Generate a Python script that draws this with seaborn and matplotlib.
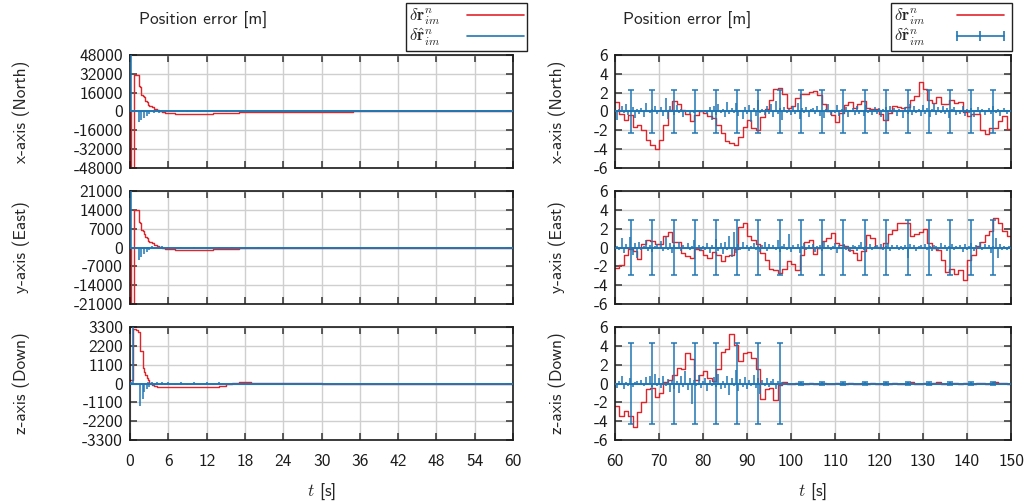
import numpy as np
import matplotlib
matplotlib.use("Agg")
import matplotlib.pyplot as plt
from matplotlib.lines import Line2D
from matplotlib.ticker import FixedLocator
import seaborn as sns

# ---------------- data ----------------
# left column: time samples (s)
left_t = [0, 0.2, 0.4, 0.6, 0.8, 1.0, 1.2, 1.4, 1.6, 1.8, 2.0, 2.2, 2.4, 2.6, 2.8, 3.0,
          3.4, 3.8, 4.2, 4.6, 5.0, 5.5, 6, 7, 8, 9, 10, 11, 12, 13, 14, 15, 16, 17, 18,
          19, 20, 22, 24, 27, 30, 35, 40, 45, 50, 55, 60]

red_north_left = [0, -50000, -50000, 31000, 31000, 31000, 31000, 22000, 21000, 14000, 13500,
                  12500, 9000, 8000, 5600, 4500, 3700, 2500, 1500, 600, -300, -900, -1400,
                  -1800, -2000, -2000, -2100, -2000, -1800, -1600, -1300, -1100, -900, -800,
                  -600, -500, -400, -300, -200, -100, -50, 0, 0, 0, 0, 0, 0]
blue_north_left = [0, 50000, 0, 0, 0, 0, 0, -9000, 0, -7000, 0, -5500, 0, -3500, 500, -2500,
                   800, -1500, 600, -1000, 700, -800, 600, -700, 800, -600, 700, -800, 600,
                   -700, 800, -600, 700, -500, 400, -300, 300, -200, 100, -100, 50, 0, 0, 0,
                   0, 0, 0]

red_east_left = [0, -22000, -22000, 13800, 13800, 13800, 13800, 9500, 9000, 6500, 6000, 5200,
                 4000, 3500, 2500, 2000, 1500, 1000, 600, 200, -200, -500, -700, -900, -1000,
                 -1000, -1000, -900, -800, -700, -600, -500, -400, -350, -300, -250, -200,
                 -150, -100, -50, 0, 0, 0, 0, 0, 0, 0]
blue_east_left = [0, 22000, 0, 0, 0, 0, 0, -4500, 0, -3500, 0, -2500, 0, -1500, 300, -1000,
                  400, -700, 300, -500, 400, -400, 300, -350, 350, -300, 350, -350, 300, -300,
                  350, -300, 300, -250, 200, -150, 150, -100, 50, -50, 0, 0, 0, 0, 0, 0, 0]

red_down_left = [200, 200, 3200, 3200, 3200, 3100, 3000, 3000, 1900, 1900, 900, 700, 500, 300,
                 200, 50, -100, -150, -200, -200, -200, -220, -220, -230, -230, -230, -220,
                 -220, -220, -200, -150, 0, 50, 60, 60, 50, 40, 30, 20, 10, 0, 0, 0, 0, 0, 0, 0]
blue_down_left = [0, 100, 3300, 0, 0, 0, 0, 0, -1300, 0, -900, -500, 0, -300, 100, -200, 100,
                  -150, 100, -100, 100, -100, 80, -100, 100, -80, 100, -100, 80, -80, 100, -60,
                  50, -40, 30, -20, 20, 0, 0, 0, 0, 0, 0, 0, 0, 0, 0]

# right column: red sampled every 1 s, blue every 0.5 s, 60..150 s
red_t = np.arange(60, 151, 1.0)
blue_t = np.arange(60, 150.01, 0.5)

red_north_right = [1.0, -0.3, -0.9, -0.4, -1.6, -1.4, -2.0, -3.0, -3.6, -4.0,
                   -3.0, -1.4, 0.2, 1.1, 0.8, 0.2, -0.3, -1.0, -0.4, 0.0,
                   -0.2, -0.5, -0.7, -1.4, -2.3, -3.1, -3.3, -3.6, -2.7, -1.6,
                   -0.9, -1.8, -2.0, -0.6, 0.3, 1.2, 2.4, 2.5, 1.9, 0.4,
                   0.6, 1.4, 1.9, 1.9, 2.1, 2.2, 1.7, 0.8, 0.0, -0.4,
                   -1.1, -0.2, 0.7, 1.0, 0.4, 0.8, 1.1, 0.4, 0.3, 0.3,
                   -0.3, -0.9, -0.2, 0.6, 0.5, 0.35, 0.5, 1.2, 1.6, 3.1,
                   2.4, 1.2, 0.9, 1.5, 0.8, 0.8, 1.2, 0.9, 1.0, -0.1,
                   -0.5, -0.3, -0.3, -2.0, -2.4, -1.8, -1.7, -1.0, -0.5, -1.9,
                   -1.9]
red_east_right = [-2.2, -1.9, -0.8, -0.2, -0.4, -1.2, 0.4, 0.8, 0.7, 0.4,
                  0.4, 1.2, 1.6, 0.6, 0.6, -0.6, -0.9, -1.1, -0.2, -0.3,
                  -0.8, -1.1, -0.5, -0.8, -1.4, -0.9, -0.8, -0.2, 2.2, 2.6,
                  1.2, 0.8, 0.4, -0.6, -1.3, -2.3, -2.4, -2.7, -2.3, -1.4,
                  -1.8, -2.4, -0.8, 0.6, 0.75, -0.7, 0.0, 0.7, 1.0, 1.5,
                  0.5, 0.3, 0.2, -0.3, -0.6, -1.3, -0.4, 1.3, 1.0, 0.1,
                  0.0, 0.5, 1.4, 1.9, 2.6, 2.6, 2.6, 1.2, 1.4, 1.6,
                  2.0, 0.5, 0.0, -0.3, -1.3, -2.6, -2.3, -2.8, -2.4, -3.4,
                  -1.3, -0.8, 0.2, 0.6, 1.3, 1.8, 3.1, 2.6, 1.7, 1.2,
                  0.9]
red_down_right = [-2.4, -3.4, -2.9, -3.5, -4.6, -3.0, -2.0, -0.6, -0.5, -1.4,
                  -1.0, 0.2, 0.4, 0.9, 1.6, 1.5, 3.2, 2.6, 0.4, 0.9,
                  1.3, 0.6, 0.3, 1.5, 3.3, 3.7, 5.3, 4.1, 2.4, 3.2,
                  3.3, 2.7, 1.5, -1.6, -0.6, -0.45, -1.8, -0.2, 0.2, -0.1,
                  0.0, 0.05, -0.05, 0.0, 0.1, -0.05, 0.0, 0.05, -0.1, 0.0,
                  0.05, 0.0, -0.05, 0.1, 0.0, -0.05, 0.05, 0.0, 0.1, 0.0,
                  -0.05, 0.05, 0.0, 0.1, -0.05, 0.0, 0.05, 0.15, 0.0, -0.05,
                  0.1, 0.0, 0.05, 0.15, 0.0, -0.05, 0.1, 0.05, 0.0, 0.1,
                  0.0, -0.05, 0.05, 0.1, 0.0, 0.05, 0.15, 0.1, 0.05, 0.0,
                  0.0]

blue_north_right = [0.1, -0.9, 0.3, 0.6, -0.2, 0.8, -0.4, 0.0, 0.5, -0.7,
                    0.3, -0.3, 0.4, -0.6, 0.9, 0.0, -0.2, 0.3, 0.6, -0.3,
                    0.2, 0.5, -0.5, 1.4, -0.8, 0.6, 0.2, -0.4, 0.7, -0.2,
                    0.3, -0.6, 0.1, 0.2, -0.3, 0.1, -0.2, 0.0, 0.2, -0.1,
                    0.0, 0.2, -0.3, 0.5, -0.9, 0.6, -0.4, 0.8, -0.2, 0.3,
                    -0.6, 1.0, -0.3, 0.4, -0.2, 0.9, -0.5, 0.2, -0.8, 0.5,
                    -0.3, 0.7, -1.1, 0.4, -0.5, 1.2, -0.2, 0.3, -0.4, 0.6,
                    -0.3, 0.8, -0.6, 1.1, -0.3, 0.4, -0.9, 0.5, -0.2, 0.3,
                    -0.4, 0.6, -0.3, 0.9, -0.8, 0.4, -0.2, 0.5, -0.6, 0.3,
                    0.4, -0.3, 0.6, -0.5, 0.2, -0.7, 0.3, 0.8, -0.4, 0.2,
                    -0.2, 0.7, -0.5, 0.3, -0.3, 0.5, -0.6, 0.2, 0.4, -0.4,
                    0.6, -0.3, 0.2, -0.5, 0.7, -0.2, 0.3, -0.4, 0.5, -0.3,
                    0.4, -0.6, 0.3, 0.5, -0.9, 0.6, -0.2, 0.4, -0.5, 0.3,
                    0.2, -0.7, 0.5, -0.3, 0.8, -0.4, 0.6, -0.2, 0.3, -0.5,
                    0.7, -0.3, 0.4, -0.6, 0.3, 0.9, -0.4, 0.5, -0.2, 0.6,
                    -0.3, 0.4, -0.7, 0.3, 0.5, -0.4, 0.2, -0.3, 0.6, -0.5,
                    0.3, -0.2, 0.4, -0.6, 0.2, 0.5, -0.3, 0.3, -0.4, 0.2,
                    0.4, -0.3, 0.6, -0.2, 0.3, -0.5, 0.2, 0.4, -0.3, 0.2,
                    0.0]
blue_east_right = [-0.1, 0.2, -0.3, 1.0, -0.6, 0.4, -0.2, 1.1, -0.8, 0.5,
                   -1.1, 0.6, -0.3, 0.2, 0.8, -0.4, 0.3, -0.5, 0.2, 0.4,
                   -0.2, 0.7, -0.4, 1.1, -0.3, 0.5, -0.6, 0.3, -0.2, 0.6,
                   -0.4, 0.3, -0.2, 0.5, -0.3, 0.2, 0.8, -0.2, 0.3, -0.4,
                   0.2, -0.3, 0.5, -0.6, 0.3, -0.2, 0.9, -0.4, 0.5, -0.7,
                   0.6, -0.3, 1.2, -1.0, 1.6, -0.6, 0.4, -0.3, 0.6, -0.2,
                   0.3, -0.4, 0.2, 0.5, -0.3, 0.2, -0.5, 0.3, 0.6, -0.4,
                   0.4, -0.2, 0.3, -0.3, 0.8, -0.5, 0.2, 0.4, -0.3, 1.4,
                   -0.5, 0.3, -0.2, 0.4, -0.6, 0.2, 0.5, -0.3, 0.3, -0.2,
                   0.4, -0.5, 0.2, 0.3, -0.4, 0.6, -0.2, 0.3, -0.3, 0.2,
                   0.5, -0.6, 0.3, -0.2, 0.4, -0.3, 0.2, -0.5, 0.3, 0.2,
                   -0.4, 0.3, 0.6, -0.3, 0.2, -0.2, 0.4, -0.3, 0.2, 0.3,
                   -0.2, 0.4, -0.3, 0.2, 0.5, -0.4, 0.3, -0.2, 0.3, -0.3,
                   0.2, -0.3, 0.3, -1.1, 0.4, -0.2, 0.3, -0.4, 0.2, 0.3,
                   -0.2, 0.4, -0.3, 0.2, -0.4, 0.3, 0.2, -0.3, 0.5, -0.2,
                   0.3, -0.4, 0.2, 0.4, -0.3, 0.2, -0.2, 0.3, -0.5, 0.4,
                   -0.3, 0.2, 0.5, -0.4, 0.3, -0.2, 0.6, -0.3, 0.4, -0.2,
                   0.3, -0.6, 0.2, 1.0, -1.1, 0.4, -0.3, 0.2, -0.3, 0.2,
                   0.0]
blue_down_right = [0.1, -0.5, 0.3, 0.8, -0.6, 0.2, -0.3, 0.6, -0.4, 0.2,
                   0.3, -0.2, 0.4, -0.3, 0.7, -0.2, 0.8, -0.4, 1.0, -0.3,
                   0.6, -0.5, 0.8, -0.3, 0.5, -0.9, 0.4, -0.6, 0.3, -1.0,
                   0.8, -0.4, 1.3, -0.7, 0.6, -2.2, 0.4, -0.3, 0.9, -0.5,
                   0.3, 0.6, -0.8, 0.4, -0.3, 0.7, -0.4, 1.0, -0.6, 0.3,
                   -0.5, 0.8, -1.2, 0.6, -0.3, 1.4, -0.8, 0.5, -0.4, 0.7,
                   -0.6, 0.4, -0.3, 0.9, -0.5, 0.6, -1.1, 0.4, -0.3, 0.6,
                   -0.4, 0.3, 0.5, -0.6, 0.3, -0.2, 0.2, -0.1, 0.1, -0.1,
                   0.05, -0.05, 0.0, 0.05, -0.05, 0.0, 0.05, 0.0, -0.05, 0.05,
                   0.0, -0.05, 0.05, 0.0, 0.05, -0.05, 0.0, 0.05, 0.0, -0.05,
                   0.05, 0.0, -0.05, 0.05, 0.0, 0.0, -0.05, 0.05, 0.0, 0.05,
                   -0.05, 0.0, 0.05, 0.0, -0.05, 0.05, 0.0, 0.0, 0.05, -0.05,
                   0.0, 0.05, -0.05, 0.0, 0.05, 0.0, -0.05, 0.05, 0.0, 0.0,
                   0.05, -0.05, 0.0, 0.05, 0.0, -0.05, 0.05, 0.0, 0.05, -0.05,
                   0.0, 0.05, 0.0, -0.05, 0.05, 0.0, 0.0, -0.05, 0.05, 0.0,
                   -0.05, 0.05, 0.0, 0.05, -0.05, 0.0, 0.05, 0.0, -0.05, 0.05,
                   0.0, -0.05, 0.05, 0.0, 0.05, 0.0, -0.05, 0.05, 0.0, -0.05,
                   0.05, 0.0, -0.05, 0.05, 0.0, 0.05, -0.05, 0.0, 0.05, 0.0,
                   0.0]

# error bars on the estimate (right column)
err_t = [63.6, 68.4, 73.3, 78.1, 82.9, 87.8, 92.6, 97.4, 102.3, 107.1, 111.9, 116.8,
         121.6, 126.5, 131.3, 136.1, 141.0, 145.8]
err_center = [0.0] * 18
err_north = [2.3] * 18
err_east = [2.9] * 18
err_down = [4.3] * 8 + [0.15] * 10

row_labels = ["x-axis (North)", "y-axis (East)", "z-axis (Down)"]
left_yticks = [[-48000, -32000, -16000, 0, 16000, 32000, 48000],
               [-21000, -14000, -7000, 0, 7000, 14000, 21000],
               [-3300, -2200, -1100, 0, 1100, 2200, 3300]]
right_yticks = [-6, -4, -2, 0, 2, 4, 6]
left_xticks = [0, 6, 12, 18, 24, 30, 36, 42, 48, 54, 60]
right_xticks = [60, 70, 80, 90, 100, 110, 120, 130, 140, 150]

RED = "#e0242c"
BLUE = "#1f77b4"

# ---------------- style ----------------
sns.set_theme(style="whitegrid")
plt.rcParams["font.family"] = ["cmss10", "DejaVu Sans"]
plt.rcParams["mathtext.fontset"] = "cm"
plt.rcParams["axes.unicode_minus"] = False
plt.rcParams["axes.formatter.use_mathtext"] = False

fig = plt.figure(figsize=(10.31, 5.03), dpi=100)

bottoms = [0.666, 0.3956, 0.1252]
h = 0.2247
lx, lw_ = 130 / 1031, 383 / 1031
rx, rw_ = 615 / 1031, 396 / 1031

left_red = [red_north_left, red_east_left, red_down_left]
left_blue = [blue_north_left, blue_east_left, blue_down_left]
right_red = [red_north_right, red_east_right, red_down_right]
right_blue = [blue_north_right, blue_east_right, blue_down_right]
right_err = [err_north, err_east, err_down]
left_lim = [48000, 21000, 3300]

FS = 12.5


def style(ax, xticks, yticks, xlim, ylim, show_x):
    ax.set_xlim(*xlim)
    ax.set_ylim(*ylim)
    ax.xaxis.set_major_locator(FixedLocator(xticks))
    ax.yaxis.set_major_locator(FixedLocator(yticks))
    ax.grid(True, color="#cfcfcf", lw=1.0)
    ax.set_axisbelow(True)
    for s in ax.spines.values():
        s.set_visible(True)
        s.set_color("#1a1a1a")
        s.set_linewidth(1.2)
    ax.tick_params(axis="both", which="major", direction="in", length=5, width=1.1,
                   color="#333333", top=True, right=True, bottom=True, left=True,
                   labelsize=FS, labelcolor="#1a1a1a")
    ax.tick_params(axis="y", pad=5)
    ax.tick_params(axis="x", pad=10, labelbottom=show_x)
    ax.set_xlabel("")


def spikes(ax, t, v):
    ml, sl, bl = ax.stem(t, v, linefmt="-", markerfmt=" ", basefmt="-")
    sl.set_color(BLUE)
    sl.set_linewidth(1.1)
    bl.set_color(BLUE)
    bl.set_linewidth(1.4)
    sl.set_zorder(3)
    bl.set_zorder(3)


axes_left, axes_right = [], []
for i in range(3):
    axl = fig.add_axes([lx, bottoms[i], lw_, h])
    sns.lineplot(x=left_t, y=left_red[i], ax=axl, color=RED, lw=1.0,
                 drawstyle="steps-post", estimator=None, sort=False)
    spikes(axl, left_t, left_blue[i])
    style(axl, left_xticks, left_yticks[i], (0, 60), (-left_lim[i], left_lim[i]), i == 2)
    axl.set_ylabel(row_labels[i], fontsize=FS)
    axl.yaxis.set_label_coords(-0.262, 0.5)
    axes_left.append(axl)

    axr = fig.add_axes([rx, bottoms[i], rw_, h])
    sns.lineplot(x=red_t, y=right_red[i], ax=axr, color=RED, lw=1.0,
                 drawstyle="steps-post", estimator=None, sort=False)
    spikes(axr, blue_t, right_blue[i])
    axr.errorbar(err_t, err_center, yerr=right_err[i], fmt="none", ecolor=BLUE,
                 elinewidth=1.1, capsize=2.2, capthick=1.1, zorder=4)
    style(axr, right_xticks, right_yticks, (60, 150), (-6, 6), i == 2)
    axr.set_ylabel(row_labels[i], fontsize=FS)
    axr.yaxis.set_label_coords(-0.123, 0.5)
    axes_right.append(axr)

for ax in (axes_left[2], axes_right[2]):
    ax.set_xlabel("$t$ [s]", fontsize=FS, labelpad=9)

fig.text(139 / 1031, 1 - 20 / 503, "Position error [m]", fontsize=FS, va="center", ha="left")
fig.text(623 / 1031, 1 - 20 / 503, "Position error [m]", fontsize=FS, va="center", ha="left")

lab_r = r"$\delta\mathbf{r}^{n}_{im}$"
lab_b = r"$\delta\hat{\mathbf{r}}^{n}_{im}$"

h_red = Line2D([], [], color=RED, lw=1.2)
h_blue = Line2D([], [], color=BLUE, lw=1.2)
h_blue_err = Line2D([], [], color=BLUE, lw=1.2, marker="|", markersize=7, markeredgewidth=1.2)

leg_kw = dict(loc="upper right", bbox_transform=fig.transFigure, markerfirst=False,
              fontsize=12, frameon=True, fancybox=False, framealpha=1.0,
              edgecolor="#222222", borderpad=0.2, labelspacing=0.0,
              handlelength=3.4, handletextpad=1.6, borderaxespad=0.0)
legL = axes_left[0].legend([h_red, h_blue], [lab_r, lab_b],
                           bbox_to_anchor=(527 / 1031, 1 - 3 / 503), **leg_kw)
legL.get_frame().set_linewidth(1.0)
legR = axes_right[0].legend([h_red, h_blue_err], [lab_r, lab_b], numpoints=3,
                            bbox_to_anchor=(1012 / 1031, 1 - 3 / 503), **leg_kw)
legR.get_frame().set_linewidth(1.0)

fig.savefig("out.png", dpi=100)
